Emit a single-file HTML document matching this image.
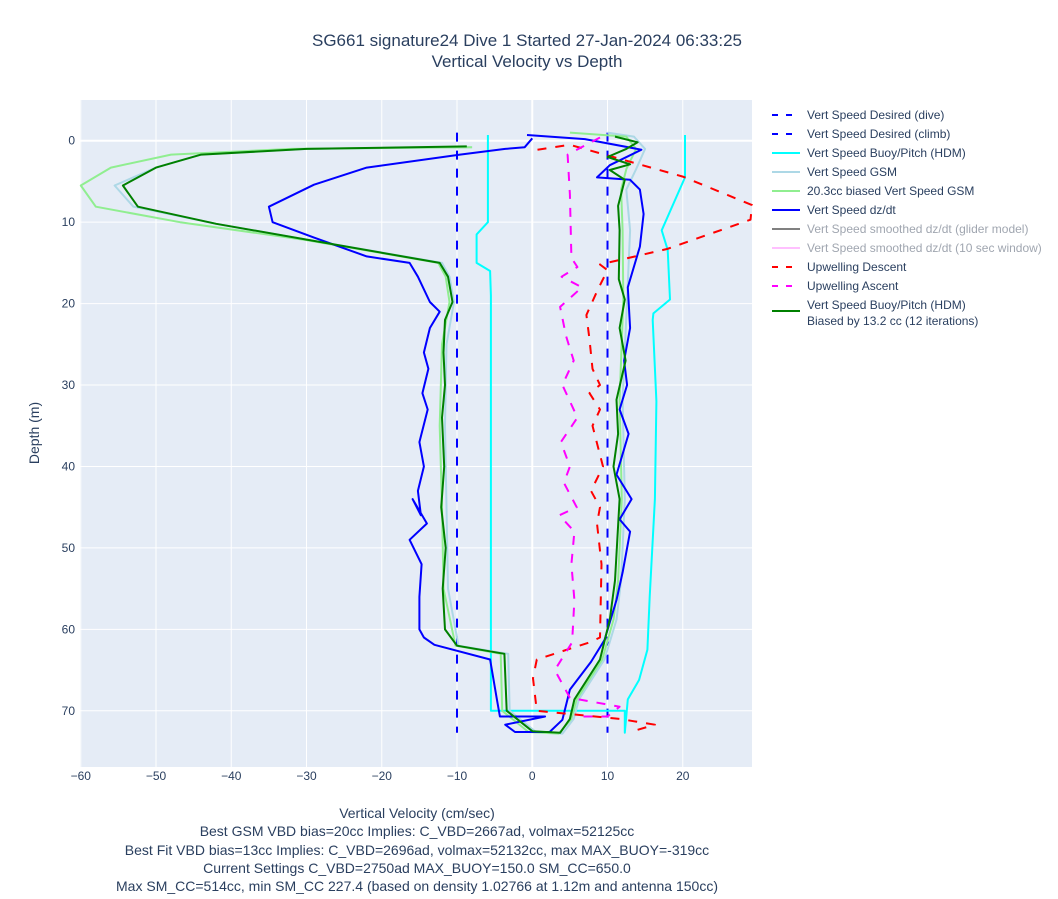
<!DOCTYPE html>
<html><head><meta charset="utf-8"><style>
body{margin:0;background:#fff;font-family:"Liberation Sans",Arial,sans-serif;}
svg text{font-family:"Liberation Sans",Arial,sans-serif;}
</style></head><body>
<svg id="chart" width="1058" height="894" xmlns="http://www.w3.org/2000/svg">
<rect x="0" y="0" width="1058" height="894" fill="#fff"/>
<text x="527" y="46" text-anchor="middle" font-size="17" fill="#2a3f5f">SG661 signature24 Dive 1 Started 27-Jan-2024 06:33:25</text>
<text x="527" y="67" text-anchor="middle" font-size="17" fill="#2a3f5f">Vertical Velocity vs Depth</text>
<rect x="80" y="100" width="672" height="667" fill="#e5ecf6"/>
<g id="grid"></g>
<g id="series"></g>
<g id="ticks"></g>
<text x="417" y="818" text-anchor="middle" font-size="14" fill="#2a3f5f">Vertical Velocity (cm/sec)</text>
<text x="417" y="836" text-anchor="middle" font-size="14" fill="#2a3f5f">Best GSM VBD bias=20cc Implies: C_VBD=2667ad, volmax=52125cc</text>
<text x="417" y="855" text-anchor="middle" font-size="14" fill="#2a3f5f">Best Fit VBD bias=13cc Implies: C_VBD=2696ad, volmax=52132cc, max MAX_BUOY=-319cc</text>
<text x="417" y="873" text-anchor="middle" font-size="14" fill="#2a3f5f">Current Settings C_VBD=2750ad MAX_BUOY=150.0 SM_CC=650.0</text>
<text x="417" y="891" text-anchor="middle" font-size="14" fill="#2a3f5f">Max SM_CC=514cc, min SM_CC 227.4 (based on density 1.02766 at 1.12m and antenna 150cc)</text>
<text x="0" y="0" transform="translate(39,433) rotate(-90)" text-anchor="middle" font-size="14" fill="#2a3f5f">Depth (m)</text>
<g id="legend"></g>
</svg>
<script>
const NS="http://www.w3.org/2000/svg";
const xTicks=[-60,-50,-40,-30,-20,-10,0,10,20];
const yTicks=[0,10,20,30,40,50,60,70];
// Data: velocity (cm/s) and depth (m)
const desiredDiveV=[-10,-10];
const desiredDiveD=[-1,72.7];
const desiredClimbV=[10,10];
const desiredClimbD=[-1,72.7];
const hdmV=[-5.9,-5.9,-7.4,-7.4,-5.6,-5.5,-5.5,-5.5,12.3,12.3,12.7,14.2,15.3,15.6,16.3,16.5,16,16.1,18.3,18,17.2,20.3,20.3];
const hdmD=[-0.7,10,11.5,15,16,19,50,70,70,72.7,68.6,66.2,62.5,56,44,32,22,21.2,19.5,13.4,11,4.5,-0.7];
const gsmV=[-8,-30,-44,-50,-55.5,-53,-42,-29.6,-12,-11,-10.4,-11.4,-11.6,-11.4,-11.2,-9.8,-3.2,-3,0.5,4,5.5,6.2,9.6,11.2,11.8,12.3,12,12.6,13,12.5,13.8,15,13.5,10];
const gsmD=[0.8,1,1.7,3.3,5.5,8.1,10.2,12.2,15,16.7,19.8,25,35,45,55,62,63,70,72.6,72.8,71,68.6,63.7,58.8,54,44,31.8,19.5,11,6,3.5,1,-0.5,-1];
const gsmBiasV=[-8,-32,-48,-56,-60,-58,-46.8,-30,-12.5,-11.5,-11,-12,-12.3,-12,-11.8,-10.2,-4.2,-4,-0.5,3.5,5.2,5.9,9.3,10.8,11.4,11.9,11.6,12.1,12,11.8,12.5,13.8,12.5,5];
const gsmBiasD=[0.8,1,1.7,3.3,5.5,8.1,10,12.2,15,16.7,19.8,25,35,45,55,62,63,70,72.6,72.8,71,68.6,63.7,58.8,54,44,31.8,19.5,11,6,3.5,1,-0.5,-1];
const dzdtV=[0,-1,-3.6,-9.6,-22,-29,-35,-34.5,-29,-22,-16.3,-15.2,-13.6,-12.3,-13.6,-14.4,-13.8,-14.6,-13.9,-15,-14.4,-15.2,-14.8,-15.9,-14,-16.3,-14.7,-15,-15,-14.4,-13,-5.6,-4.7,-4.3,1.7,-3.6,-2.3,2.3,4,5,7.8,9.6,11.2,12,13,11.6,13.2,11.2,12.8,11.6,12.6,12.2,13,12.7,14.3,14.8,14.3,13,8.6,10.3,14.5,7,-0.7];
const dzdtD=[-0.3,0.8,1,1.7,3.3,5.4,8.1,10,11.9,14.2,15,16.7,19.8,21,23,26,28,31,33,37,40,43,46,44,47,49,52,56,60,61,61.9,63.7,68.6,70.7,70.7,71.7,72.6,72.6,71.1,67.4,64,61.3,56.4,53,48,46.5,44,41,36,33,30,27,23,18,13,9,6,4.8,4.5,3,1.1,-0.2,-0.7];
const upDescV=[0.7,5,20,29.2,29,17.9,9,10,8.7,7.2,7.6,8,9,7.6,9,8,9.4,7.8,9,8.6,9.2,9,7.6,0.6,0.1,0.6,11.6,16.3,13];
const upDescD=[1.1,0.5,4.4,7.9,9.7,13.3,15.2,15.9,18.3,21.4,24.4,28,30,31,33,35,40,43,45,47,52,61,61.6,63.7,66,70,71,71.7,72.6];
const upAscV=[9,4.7,5,5.2,6,3.9,6.6,3.7,4.5,5.5,4,6,3.8,5,4.2,5.9,3.6,5.6,5.2,5.6,5.3,3,5,11.6,10,6.3];
const upAscD=[-0.4,1.7,6.6,14.4,15.5,16.7,18,20.4,24,27,30,34,37,40,42,45,46,48,52,56.4,61.6,65,68.4,69.5,70.7,70.7];
const biasedV=[-8.7,-30,-44,-50,-54.4,-52.4,-42,-29.6,-12.3,-11.2,-10.6,-11.6,-11.8,-11.6,-12,-11.7,-12.1,-11.5,-11.9,-11.6,-10,-3.7,-3.4,0,3.7,5,5.6,9,10.3,11,11.6,10.8,11.4,11.2,12.4,11.6,12.3,11.5,11.6,11.4,12.3,10.3,13,10,12.5,14,11];
const biasedD=[0.7,1,1.7,3.3,5.5,8.1,10.2,12.2,15,16.7,19.8,22,26,30,34,40,45,50,55,60,62,63,70,72.5,72.7,71,68.6,63.7,58.8,54,44,40,36,31.8,27,23,19.5,17,11,8,4.8,3.6,2.9,2,1,0.2,-0.5];
const X0=80,X1=752,Y0=100,Y1=767;
const xmin=-60.1,xmax=29.2,ymin=-5,ymax=76.9;
function sx(v){return X0+(v-xmin)/(xmax-xmin)*(X1-X0);}
function sy(d){return Y0+(d-ymin)/(ymax-ymin)*(Y1-Y0);}
const svg=document.getElementById('chart');
const grid=document.getElementById('grid'),ticks=document.getElementById('ticks'),ser=document.getElementById('series'),leg=document.getElementById('legend');
function mk(tag,attrs,parent){const e=document.createElementNS(NS,tag);for(const k in attrs)e.setAttribute(k,attrs[k]);parent.appendChild(e);return e;}
xTicks.forEach(t=>{
  const l=mk('line',{x1:sx(t),x2:sx(t),y1:Y0,y2:Y1,stroke:'#fff','stroke-width':t===0?2:1},grid);
  
  
  const tx=mk('text',{x:sx(t),y:780,'text-anchor':'middle','font-size':12,fill:'#2a3f5f'},ticks);
  tx.textContent=(t<0?'\u2212'+(-t):t);
  
  
});
yTicks.forEach(t=>{
  const l=mk('line',{x1:X0,x2:X1,y1:sy(t),y2:sy(t),stroke:'#fff','stroke-width':t===0?2:1},grid);
  
  
  const tx=mk('text',{x:75,y:sy(t)+4,'text-anchor':'end','font-size':12,fill:'#2a3f5f'},ticks);
  tx.textContent=t;
  
  
});
function line(vs,ds,color,width,dash,name){
  const p=vs.map((v,i)=>(i?'L':'M')+sx(v).toFixed(1)+','+sy(ds[i]).toFixed(1)).join('');
  const e=mk('path',{d:p,fill:'none',stroke:color,'stroke-width':width,'stroke-linejoin':'round'},ser);
  if(dash)e.setAttribute('stroke-dasharray',dash);
  
  
}
line(desiredDiveV,desiredDiveD,'#0000ff',2,'9,9','series-desired-dive');
line(desiredClimbV,desiredClimbD,'#0000ff',2,'9,9','series-desired-climb');
line(hdmV,hdmD,'#00ffff',2,null,'series-buoy-pitch-hdm');
line(gsmV,gsmD,'#add8e6',2,null,'series-gsm');
line(gsmBiasV,gsmBiasD,'#90ee90',2,null,'series-biased-gsm');
line(dzdtV,dzdtD,'#0000ff',2,null,'series-dzdt');
line(upDescV,upDescD,'#ff0000',2,'9,9','series-upwelling-descent');
line(upAscV,upAscD,'#ff00ff',2,'9,9','series-upwelling-ascent');
line(biasedV,biasedD,'#008000',2,null,'series-biased-hdm');
const legendItems=[
 ['Vert Speed Desired (dive)','#0000ff','6,8','#2a3f5f'],
 ['Vert Speed Desired (climb)','#0000ff','6,8','#2a3f5f'],
 ['Vert Speed Buoy/Pitch (HDM)','#00ffff',null,'#2a3f5f'],
 ['Vert Speed GSM','#add8e6',null,'#2a3f5f'],
 ['20.3cc biased Vert Speed GSM','#90ee90',null,'#2a3f5f'],
 ['Vert Speed dz/dt','#0000ff',null,'#2a3f5f'],
 ['Vert Speed smoothed dz/dt (glider model)','#808080',null,'#a0a6b0'],
 ['Vert Speed smoothed dz/dt (10 sec window)','#ffc0ff',null,'#a0a6b0'],
 ['Upwelling Descent','#ff0000','6,8','#2a3f5f'],
 ['Upwelling Ascent','#ff00ff','6,8','#2a3f5f'],
];
legendItems.forEach((it,i)=>{
  const y=115+i*19;
  const g=mk('g',{},leg);
  
  
  const l=mk('line',{x1:772,x2:800,y1:y,y2:y,stroke:it[1],'stroke-width':2},g);
  if(it[2])l.setAttribute('stroke-dasharray',it[2]);
  const t=mk('text',{x:807,y:y+4,'font-size':12,fill:it[3]},g);
  t.textContent=it[0];
});
const g=mk('g',{},leg);


mk('line',{x1:772,x2:800,y1:311,y2:311,stroke:'#008000','stroke-width':2},g);
const t1=mk('text',{x:807,y:309,'font-size':12,fill:'#2a3f5f'},g);t1.textContent='Vert Speed Buoy/Pitch (HDM)';
const t2=mk('text',{x:807,y:325,'font-size':12,fill:'#2a3f5f'},g);t2.textContent='Biased by 13.2 cc (12 iterations)';
</script>
</body></html>
